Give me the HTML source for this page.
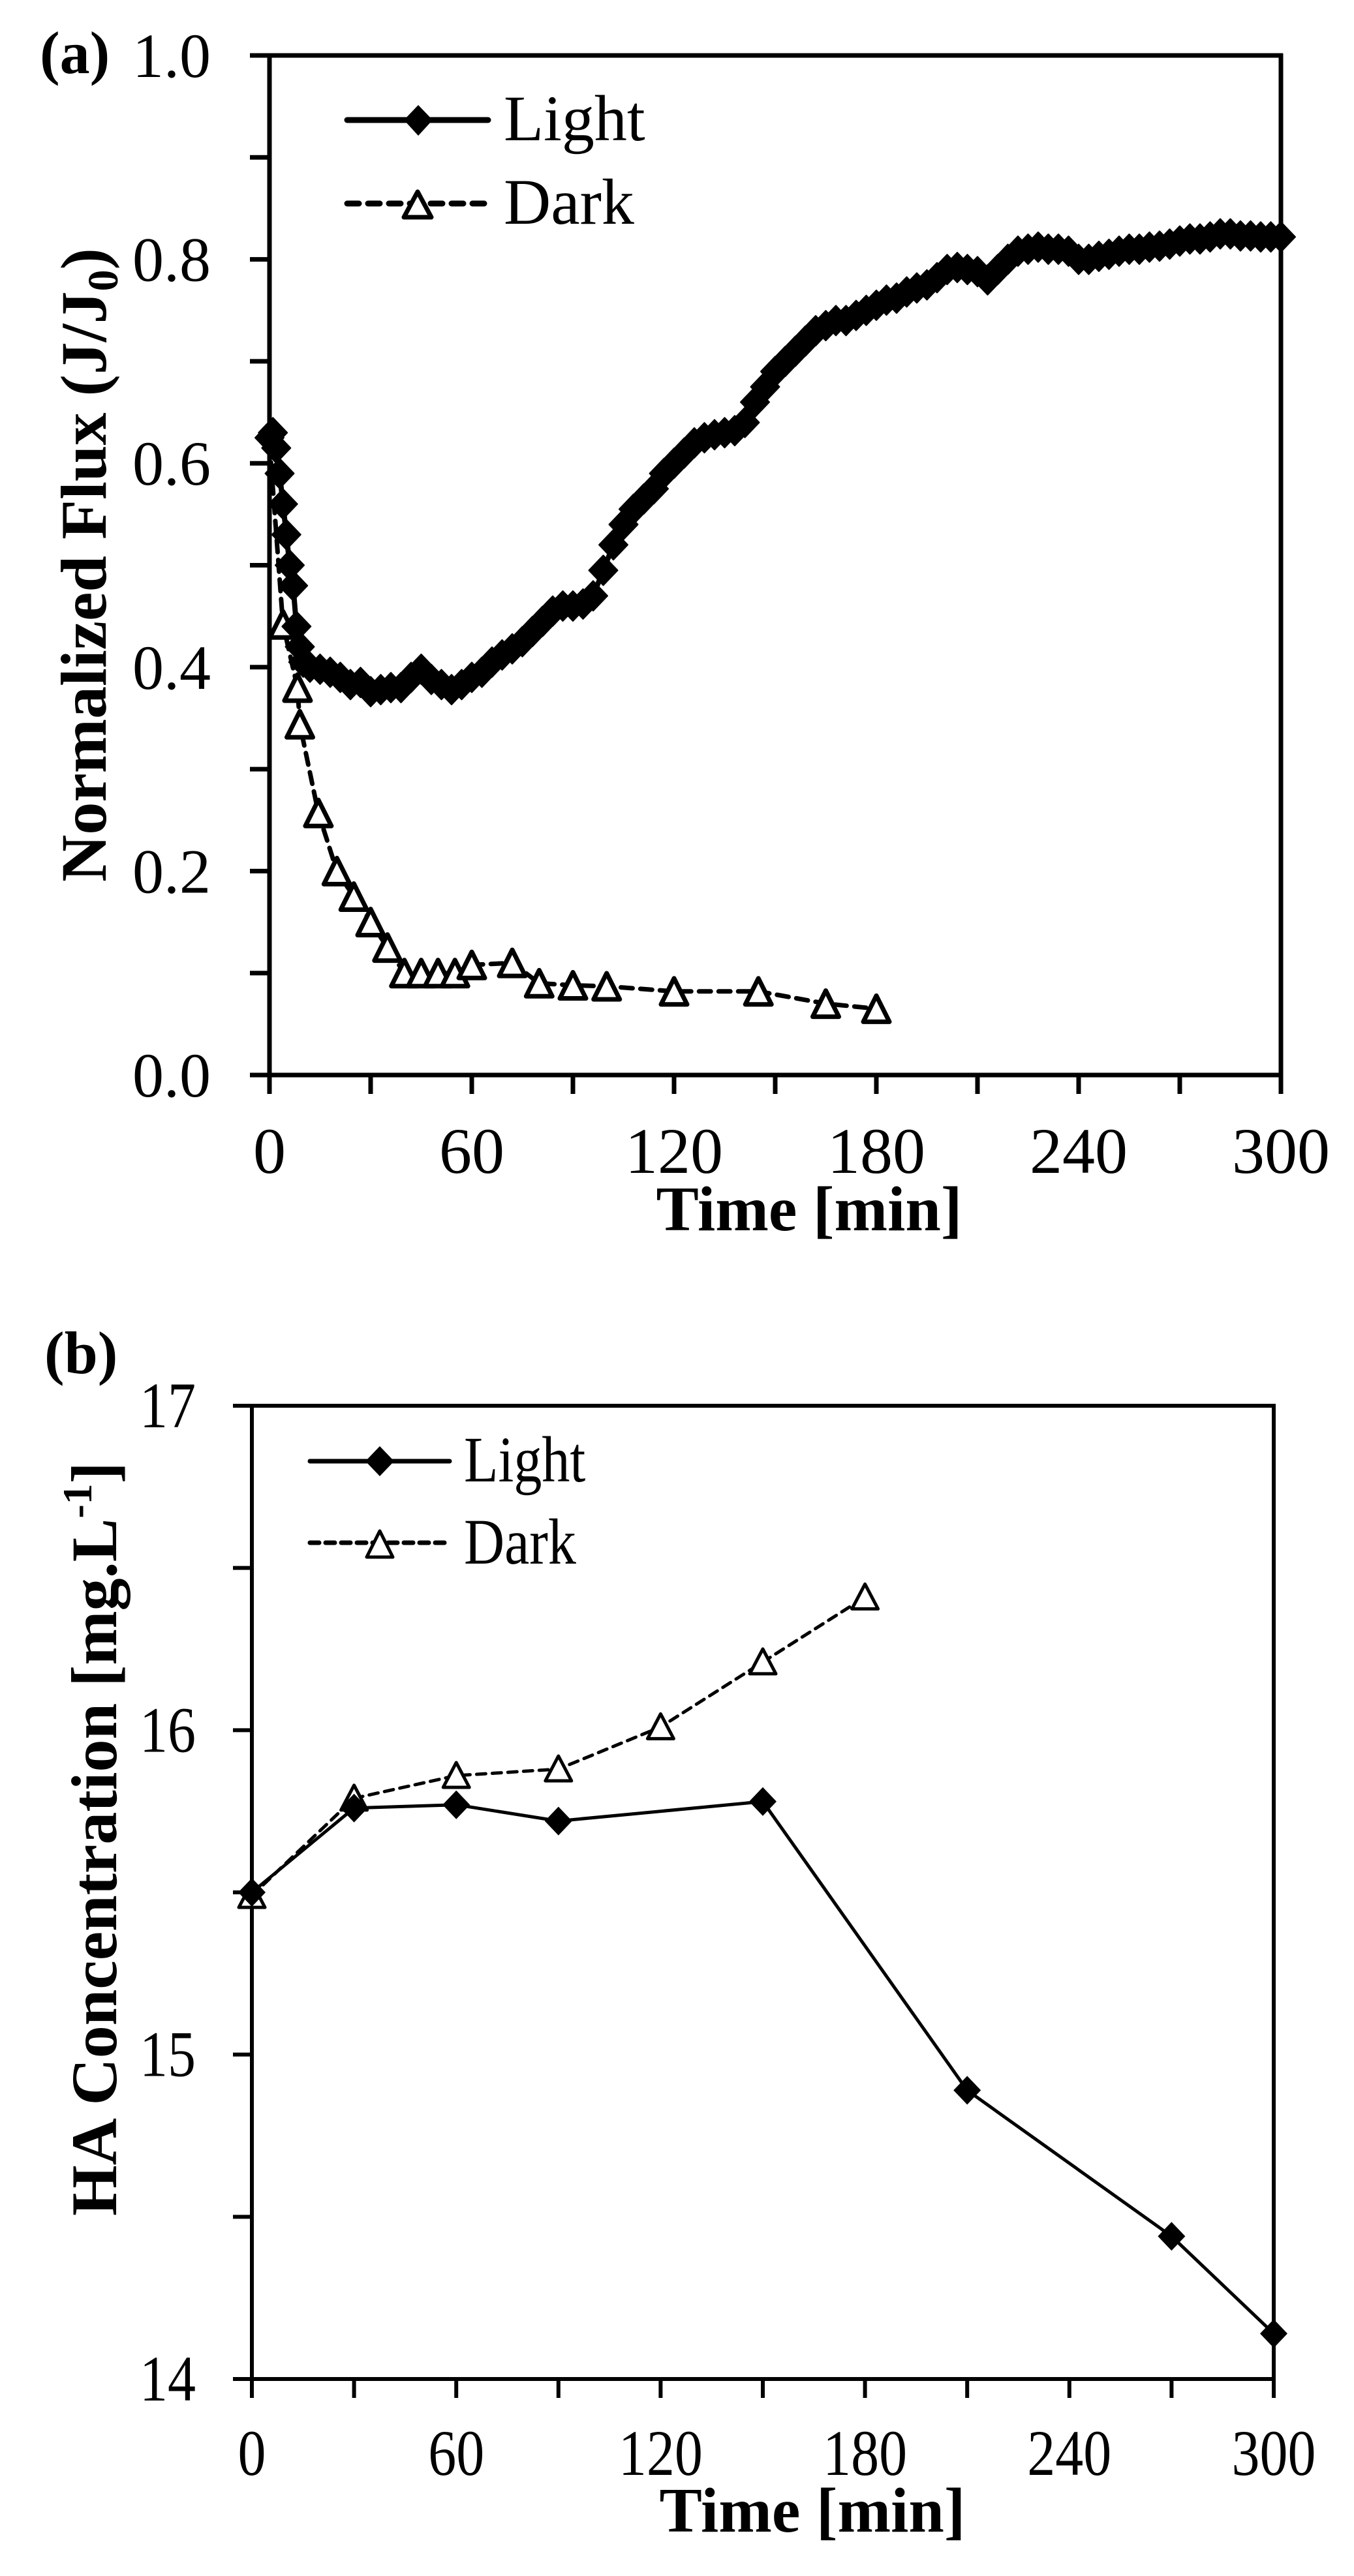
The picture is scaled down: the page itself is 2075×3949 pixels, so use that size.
<!DOCTYPE html>
<html><head><meta charset="utf-8"><style>
html,body{margin:0;padding:0;background:#fff;}
svg{display:block;}
text{font-family:"Liberation Serif","DejaVu Serif",serif;fill:#000;}
</style></head><body>
<svg id="s" width="2075" height="3949" viewBox="0 0 2075 3949" xmlns="http://www.w3.org/2000/svg">
<defs>
<marker id="dia" markerUnits="userSpaceOnUse" markerWidth="50" markerHeight="50" refX="25" refY="25" orient="0" overflow="visible">
<path d="M25 2 L47 25 L25 48 L3 25 Z" fill="#000" stroke="#000" stroke-width="2" stroke-linejoin="round"/>
</marker>
<marker id="dia2" markerUnits="userSpaceOnUse" markerWidth="50" markerHeight="50" refX="25" refY="25" orient="0" overflow="visible">
<path d="M25 3 L46 25 L25 47 L4 25 Z" fill="#000"/>
</marker>
<marker id="tri" markerUnits="userSpaceOnUse" markerWidth="50" markerHeight="50" refX="25" refY="25" orient="0" overflow="visible">
<path d="M25 5 L45 45 L5 45 Z" fill="#fff" stroke="#000" stroke-width="7" stroke-linejoin="round"/>
</marker>
<marker id="tri2" markerUnits="userSpaceOnUse" markerWidth="50" markerHeight="50" refX="25" refY="25" orient="0" overflow="visible">
<path d="M25 5 L45 43 L5 43 Z" fill="#fff" stroke="#000" stroke-width="5" stroke-linejoin="round"/>
</marker>
</defs>
<g id="g"></g>
<text x="61" y="112" font-size="92" font-weight="bold">(a)</text>
<text transform="translate(162,866) rotate(-90)" font-size="100" font-weight="bold" text-anchor="middle">Normalized Flux (J/J<tspan font-size="66" dy="18">0</tspan><tspan dy="-18">)</tspan></text>
<text x="1240" y="1886" font-size="98" font-weight="bold" text-anchor="middle">Time [min]</text>
<line x1="532" y1="184" x2="748" y2="184" stroke="#000" stroke-width="9" stroke-linecap="round"/>
<path d="M641 161 L663 184 L641 208 L619 184 Z" fill="#000"/>
<text x="772" y="215" font-size="100">Light</text>
<line x1="532" y1="312" x2="748" y2="312" stroke="#000" stroke-width="9" stroke-linecap="round" stroke-dasharray="18 14"/>
<path d="M640 294 L661 333 L619 333 Z" fill="#fff" stroke="#000" stroke-width="7" stroke-linejoin="round"/>
<text x="772" y="343" font-size="100">Dark</text>
<text x="68" y="2105" font-size="92" font-weight="bold">(b)</text>
<text transform="translate(178,2819) rotate(-90)" font-size="100" font-weight="bold" text-anchor="middle">HA Concentration [mg.L<tspan font-size="64" dy="-38">-1</tspan><tspan dy="38">]</tspan></text>
<text x="1245" y="3881" font-size="98" font-weight="bold" text-anchor="middle">Time [min]</text>
<line x1="475" y1="2240" x2="689" y2="2240" stroke="#000" stroke-width="7" stroke-linecap="round"/>
<path d="M582 2217 L604 2240 L582 2263 L560 2240 Z" fill="#000"/>
<text transform="translate(711,2271) scale(0.86,1)" font-size="100">Light</text>
<line x1="475" y1="2365" x2="689" y2="2365" stroke="#000" stroke-width="7" stroke-linecap="round" stroke-dasharray="14 10"/>
<path d="M582 2347 L602 2387 L562 2387 Z" fill="#fff" stroke="#000" stroke-width="5" stroke-linejoin="round"/>
<text transform="translate(711,2397) scale(0.86,1)" font-size="100">Dark</text>
</svg>
<script>
(function(){
var g=document.getElementById('g'),h='';
function L(x1,y1,x2,y2,w){h+='<line x1="'+x1+'" y1="'+y1+'" x2="'+x2+'" y2="'+y2+'" stroke="#000" stroke-width="'+w+'"/>';}
function T(x,y,s,a,fs,sx){sx=sx||1;h+='<text transform="translate('+x+','+y+') scale('+sx+',1)" font-size="'+fs+'" text-anchor="'+a+'">'+s+'</text>';}
var ax0=413,ax1=1963,ay0=1648,ay1=85;
function AX(t){return ax0+(ax1-ax0)*t/300;}
function AY(v){return ay0-(ay0-ay1)*v;}
L(ax0-3,ay1,ax1+3,ay1,7);L(ax0-3,ay0,ax1+3,ay0,7);L(ax0,ay1-3,ax0,ay0+3,7);L(ax1,ay1-3,ax1,ay0+3,7);
for(var i=0;i<=10;i++){var y=AY(i/10);L(ax0-30,y,ax0,y,7);if(i%2==0)T(323,y+33,(i/10).toFixed(1),'end',96);}
for(var t=0;t<=300;t+=30){var x=AX(t);L(x,ay0,x,ay0+29,7);if(t%60==0)T(x,1798,t,'middle',100);}
var la=[[0,0.625],[1,0.63],[2,0.615],[3,0.59],[4,0.56],[5,0.53],[6,0.5],[7,0.48],[8,0.44],[9,0.42],[10,0.405],[12,0.4],[15,0.398],[18,0.395],[21,0.39],[24,0.383],[27,0.385],[30,0.376],[33,0.378],[36,0.38],[39,0.38],[42,0.39],[45,0.398],[48,0.388],[51,0.383],[54,0.378],[57,0.383],[60,0.39],[63,0.395],[66,0.405],[69,0.412],[72,0.418],[75,0.425],[78,0.435],[81,0.445],[84,0.455],[87,0.46],[90,0.46],[93,0.462],[96,0.47],[99,0.495],[102,0.52],[105,0.54],[108,0.555],[111,0.565],[114,0.575],[117,0.59],[120,0.6],[123,0.61],[126,0.62],[129,0.625],[132,0.628],[135,0.63],[138,0.632],[141,0.64],[144,0.66],[147,0.675],[150,0.69],[153,0.7],[156,0.71],[159,0.72],[162,0.73],[165,0.735],[168,0.74],[171,0.74],[174,0.745],[177,0.75],[180,0.755],[183,0.76],[186,0.762],[189,0.768],[192,0.772],[195,0.775],[198,0.782],[201,0.79],[204,0.792],[207,0.79],[210,0.788],[213,0.78],[216,0.79],[219,0.8],[222,0.808],[225,0.81],[228,0.812],[231,0.81],[234,0.81],[237,0.808],[240,0.8],[243,0.8],[246,0.803],[249,0.805],[252,0.808],[255,0.81],[258,0.81],[261,0.812],[264,0.813],[267,0.815],[270,0.818],[273,0.82],[276,0.82],[279,0.822],[282,0.825],[285,0.825],[288,0.823],[291,0.823],[294,0.822],[297,0.822],[300,0.822]];
var da=[[0,0.62],[4,0.442],[8.3,0.38],[9,0.344],[14.5,0.257],[20,0.2],[25,0.175],[30,0.15],[35,0.125],[40,0.1],[45,0.1],[50,0.1],[55,0.1],[60,0.108],[72,0.11],[80,0.09],[90,0.088],[100,0.087],[120,0.082],[145,0.082],[165,0.07],[180,0.065]];
function pts(a,fx,fy,st){var s='';for(var i=st||0;i<a.length;i++)s+=fx(a[i][0]).toFixed(1)+','+fy(a[i][1]).toFixed(1)+' ';return s;}
h+='<polyline points="'+pts(da,AX,AY)+'" fill="none" stroke="#000" stroke-width="7" stroke-dasharray="18 12" stroke-linecap="round"/>';
h+='<polyline points="'+pts(da,AX,AY,1)+'" fill="none" stroke="none" marker-start="url(#tri)" marker-mid="url(#tri)" marker-end="url(#tri)"/>';
h+='<polyline points="'+pts(la,AX,AY)+'" fill="none" stroke="#000" stroke-width="8" stroke-linejoin="round" marker-start="url(#dia)" marker-mid="url(#dia)" marker-end="url(#dia)"/>';
var bx0=386,bx1=1952,by0=3647,by1=2155;
function BX(t){return bx0+(bx1-bx0)*t/300;}
function BY(v){return by0-(by0-by1)*(v-14)/3;}
L(bx0-3,by1,bx1+3,by1,6);L(bx0-3,by0,bx1+3,by0,6);L(bx0,by1-3,bx0,by0+3,6);L(bx1,by1-3,bx1,by0+3,6);
for(var k=0;k<=6;k++){var v=14+k*0.5,y=BY(v);L(bx0-29,y,bx0,y,6);if(k%2==0)T(300,y+33,v,'end',100,0.86);}
for(var t=0;t<=300;t+=30){var x=BX(t);L(x,by0,x,by0+29,6);if(t%60==0)T(x,3794,t,'middle',100,0.86);}
var lb=[[0,15.5],[30,15.76],[60,15.77],[90,15.72],[150,15.78],[210,14.89],[270,14.44],[300,14.14]];
var db=[[0,15.49],[30,15.79],[60,15.86],[90,15.88],[120,16.01],[150,16.21],[180,16.41]];
h+='<polyline points="'+pts(db,BX,BY)+'" fill="none" stroke="#000" stroke-width="5" stroke-dasharray="14 10" stroke-linecap="round" marker-start="url(#tri2)" marker-mid="url(#tri2)" marker-end="url(#tri2)"/>';
h+='<polyline points="'+pts(lb,BX,BY)+'" fill="none" stroke="#000" stroke-width="5" stroke-linejoin="round" marker-start="url(#dia2)" marker-mid="url(#dia2)" marker-end="url(#dia2)"/>';
g.innerHTML=h;
})();
</script>
</body></html>
